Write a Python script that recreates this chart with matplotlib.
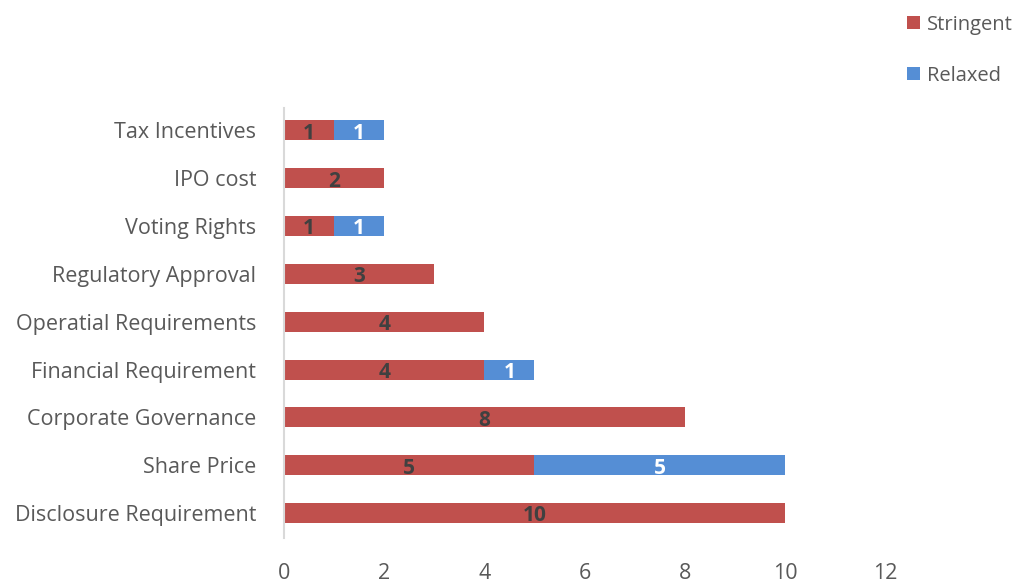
import matplotlib.pyplot as plt
import numpy as np

# categories from bottom to top
categories = ['Disclosure Requirement', 'Share Price', 'Corporate Governance',
              'Financial Requirement', 'Operatial Requirements', 'Regulatory Approval',
              'Voting Rights', 'IPO cost', 'Tax Incentives']
stringent = [10, 5, 8, 4, 4, 3, 1, 2, 1]
relaxed = [0, 5, 0, 1, 0, 0, 1, 0, 1]
xticks = [0, 2, 4, 6, 8, 10, 12]

RED = '#C0504D'
BLUE = '#558ED5'
GREY = '#595959'

plt.rcParams['font.family'] = ['Open Sans', 'DejaVu Sans']

fig = plt.figure(figsize=(10.24, 5.83), dpi=100)
ax = fig.add_axes([0.2773, 0.0772, 0.8643 - 0.2773, 0.8148 - 0.0772])

y = np.arange(len(categories))
b1 = ax.barh(y, stringent, height=0.42, color=RED, label='Stringent')
b2 = ax.barh(y, relaxed, height=0.42, left=stringent, color=BLUE, label='Relaxed')

# data labels, skip zero segments
for i in range(len(categories)):
    if stringent[i]:
        ax.text(stringent[i] / 2, y[i] - 0.06, str(stringent[i]), ha='center', va='center',
                fontsize=15, fontweight='bold', color='#404040')
    if relaxed[i]:
        ax.text(stringent[i] + relaxed[i] / 2, y[i] - 0.06, str(relaxed[i]), ha='center',
                va='center', fontsize=15, fontweight='bold', color='white')

ax.set_xlim(0, 12)
ax.set_ylim(-0.52, 8.47)
ax.set_xticks(xticks)
ax.set_yticks(y)
ax.set_yticklabels(categories)
ax.tick_params(axis='both', length=0, labelsize=15.5, labelcolor=GREY)
ax.tick_params(axis='x', pad=18)
ax.tick_params(axis='y', pad=20)
for s in ['top', 'right', 'bottom']:
    ax.spines[s].set_visible(False)
ax.spines['left'].set_color('#D9D9D9')
ax.spines['left'].set_linewidth(1.5)

fig.legend(handles=[b1, b2], loc='upper left', bbox_to_anchor=(0.868, 1.006),
           frameon=False, fontsize=14.5, labelcolor=GREY, handlelength=0.65,
           handleheight=0.65, handletextpad=0.35, labelspacing=1.55)

fig.savefig('out.png', dpi=100)
